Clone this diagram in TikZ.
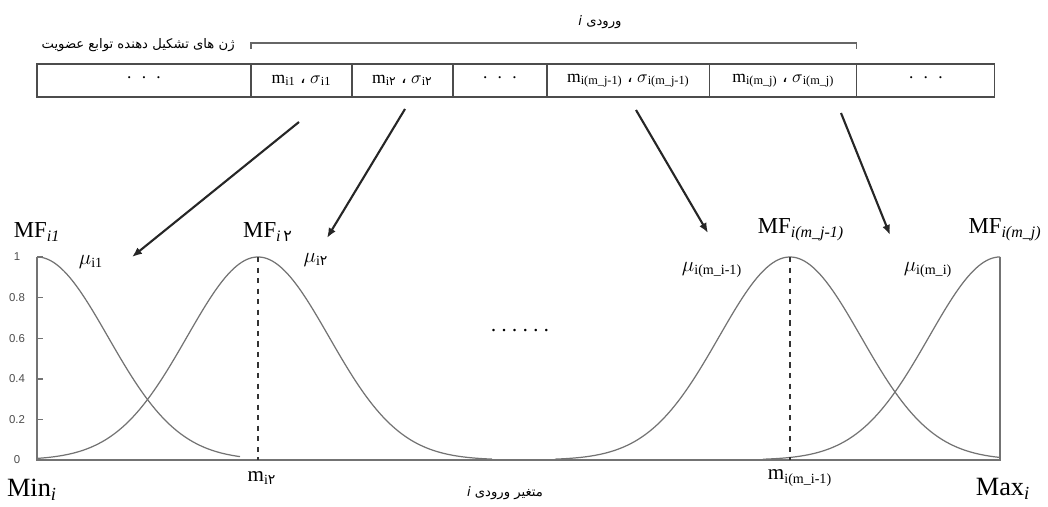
\documentclass[tikz,border=0pt]{standalone}
\usepackage{fontspec}
\setmainfont{Liberation Serif}
\newfontfamily\arabicfont[Script=Arabic]{DejaVu Sans}
\newfontfamily\tickfont{Liberation Sans}
\TeXXeTstate=1
\usetikzlibrary{arrows.meta,positioning}
\newcommand{\fadigit}[1]{{\arabicfont #1}}
\tikzset{
  gene cell/.style={draw=black!70,line width=0.7pt,minimum height=0.66cm,inner sep=0pt,outer sep=0pt,font=\fontsize{10}{12}\selectfont},
  gene arrow/.style={-{Latex[length=2mm,width=1.6mm]},line width=1.2pt,black!85},
  brace line/.style={black!60,line width=0.7pt},
  mf curve/.style={black!55,line width=0.7pt},
  axis line/.style={black!55,line width=0.8pt},
  center line/.style={black!80,dashed,line width=0.6pt},
  mf label/.style={inner sep=0pt,font=\fontsize{13}{15}\selectfont},
  mu label/.style={inner sep=0pt,font=\fontsize{12}{14}\selectfont},
  tick label/.style={inner sep=0pt,font=\tickfont\fontsize{6.5}{8}\selectfont,text=black!70},
  fa label/.style={inner sep=0pt,font=\arabicfont\fontsize{7.5}{9}\selectfont},
}

\begin{document}
\begin{tikzpicture}[x=0.02cm,y=-0.02cm]
  \useasboundingbox (0,0) rectangle (1048,507);
  % genes of the chromosome
  \node[gene cell,minimum width=4.28cm,anchor=north west] (c1) at (37,64) {·\ \ ·\ \ ·};
  \node[gene cell,minimum width=2.02cm,right=0pt of c1] (c2) {m\textsubscript{i1}\ \fadigit{،}\ $\sigma$\textsubscript{i1}};
  \node[gene cell,minimum width=2.02cm,right=0pt of c2] (c3) {m\textsubscript{i\fadigit{۲}}\ \fadigit{،}\ $\sigma$\textsubscript{i\fadigit{۲}}};
  \node[gene cell,minimum width=1.88cm,right=0pt of c3] (c4) {·\ \ ·\ \ ·};
  \node[gene cell,minimum width=3.26cm,right=0pt of c4] (c5) {m\textsubscript{i(m\_j-1)}\ \fadigit{،}\ $\sigma$\textsubscript{i(m\_j-1)}};
  \node[gene cell,minimum width=2.94cm,right=0pt of c5] (c6) {m\textsubscript{i(m\_j)}\ \fadigit{،}\ $\sigma$\textsubscript{i(m\_j)}};
  \node[gene cell,minimum width=2.76cm,right=0pt of c6] (c7) {·\ \ ·\ \ ·};
  \draw[brace line] ([yshift=0.3cm]c2.north west) -- ([yshift=0.42cm]c2.north west) -| ([yshift=0.3cm]c6.north east);
  \node[fa label] (inlabel) at (600,22) {\beginR ورودی \textit{i}\endR};
  \node[fa label,anchor=east] (genlabel) at (235,45) {\beginR ژن های تشکیل دهنده توابع عضویت\endR};

  % membership functions
  \draw[axis line] (37,257) -- (37,460) -- (1000,460) -- (1000,257);
  \foreach \v [count=\k] in {0,0.2,0.4,0.6,0.8,1} {
    \draw[axis line] (37,{460-203*\v}) -- (43,{460-203*\v});
    \node[tick label] (tk\k) at (17,{460-203*\v}) {\v};
  }
  \foreach \c/\a/\b in {37/37/240,258/37/492,790/555/1000,1000/763/1000}
    \draw[mf curve] plot[domain=\a:\b,samples=90,smooth] (\x,{460-203*exp(-0.5*((\x-\c)/71)^2)});
  \draw[center line] (258,257) -- (258,460);
  \draw[center line] (790,257) -- (790,460);

  \node[mf label] (mf1) at (37,232) {MF\textsubscript{\textit{i1}}};
  \node[mf label] (mf2) at (268,232) {MF\textsubscript{\textit{i}\,\fadigit{۲}}};
  \node[mf label] (mf3) at (801,230) {MF\textsubscript{\textit{i(m\_j-1)}}};
  \node[mf label] (mf4) at (1005,230) {MF\textsubscript{\textit{i(m\_j)}}};
  \node[mu label] (mu1) at (91,262) {$\mu$\textsubscript{i1}};
  \node[mu label] (mu2) at (316,260) {$\mu$\textsubscript{i\fadigit{۲}}};
  \node[mu label] (mu3) at (712,270) {$\mu$\textsubscript{i(m\_i-1)}};
  \node[mu label] (mu4) at (928,270) {$\mu$\textsubscript{i(m\_i)}};
  \node[font=\fontsize{12}{14}\selectfont] (gap) at (520,333) {·\,·\,·\,·\,·\,·};

  \node[mu label] (mk2) at (262,478) {m\textsubscript{i\fadigit{۲}}};
  \node[mu label] (mk3) at (800,478) {m\textsubscript{i(m\_i-1)}};
  \node[inner sep=0pt,font=\fontsize{15}{17}\selectfont] (minx) at (32,490) {Min\textsubscript{\textit{i}}};
  \node[inner sep=0pt,font=\fontsize{15}{17}\selectfont] (maxx) at (1003,489) {Max\textsubscript{\textit{i}}};
  \node[fa label] (varlabel) at (505,493) {\beginR متغیر ورودی \textit{i}\endR};

  % genes to functions
  \coordinate (a1s) at (299,122); \coordinate (a1e) at (132,257);
  \coordinate (a2s) at (405,109); \coordinate (a2e) at (327,238);
  \coordinate (a3s) at (636,110); \coordinate (a3e) at (708,233);
  \coordinate (a4s) at (841,113); \coordinate (a4e) at (890,235);
  \draw[gene arrow] (a1s) -- (a1e);
  \draw[gene arrow] (a2s) -- (a2e);
  \draw[gene arrow] (a3s) -- (a3e);
  \draw[gene arrow] (a4s) -- (a4e);
\end{tikzpicture}
\end{document}
